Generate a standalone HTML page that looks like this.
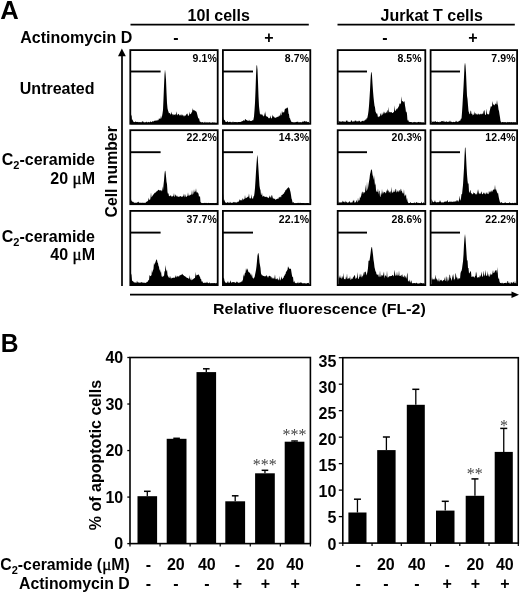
<!DOCTYPE html>
<html><head><meta charset="utf-8"><title>Figure</title>
<style>
html,body{margin:0;padding:0;background:#fff;}
body{width:520px;height:592px;overflow:hidden;font-family:"Liberation Sans",sans-serif;}
svg{display:block}
</style></head><body>
<svg width="520" height="592" viewBox="0 0 520 592">
<rect width="520" height="592" fill="#fff"/>
<path d="M131.0,124.2 L131.0,116.2 L131.5,114.4 L132.0,120.4 L132.5,119.1 L133.0,121.1 L133.5,121.7 L134.0,122.1 L134.5,122.1 L135.0,122.3 L135.5,121.3 L136.0,121.7 L136.5,122.1 L137.0,122.1 L137.5,122.0 L138.0,121.8 L138.5,122.2 L139.0,122.3 L139.5,122.1 L140.0,122.3 L140.5,121.9 L141.0,122.4 L141.5,122.3 L142.0,121.6 L142.5,121.6 L143.0,121.2 L143.5,122.0 L144.0,122.5 L144.5,122.3 L145.0,122.4 L145.5,122.3 L146.0,122.0 L146.5,121.4 L147.0,122.5 L147.5,122.5 L148.0,121.7 L148.5,122.0 L149.0,122.2 L149.5,122.2 L150.0,122.2 L150.5,121.1 L151.0,122.3 L151.5,122.0 L152.0,121.8 L152.5,121.3 L153.0,121.3 L153.5,121.4 L154.0,121.3 L154.5,120.7 L155.0,120.6 L155.5,120.9 L156.0,120.1 L156.5,120.8 L157.0,120.6 L157.5,120.5 L158.0,119.5 L158.5,120.5 L159.0,118.0 L159.5,119.2 L160.0,118.2 L160.5,119.0 L161.0,115.3 L161.5,118.8 L162.0,116.2 L162.5,113.4 L163.0,110.0 L163.5,98.7 L164.0,86.2 L164.5,74.9 L165.0,69.4 L165.5,73.6 L166.0,79.8 L166.5,92.2 L167.0,102.9 L167.5,108.3 L168.0,110.6 L168.5,111.7 L169.0,113.6 L169.5,113.1 L170.0,112.9 L170.5,114.8 L171.0,114.0 L171.5,111.5 L172.0,114.5 L172.5,113.8 L173.0,115.8 L173.5,114.0 L174.0,115.1 L174.5,114.4 L175.0,114.7 L175.5,113.8 L176.0,115.8 L176.5,111.2 L177.0,113.7 L177.5,115.6 L178.0,114.5 L178.5,113.7 L179.0,114.3 L179.5,115.4 L180.0,115.3 L180.5,115.6 L181.0,113.9 L181.5,115.9 L182.0,114.0 L182.5,115.5 L183.0,115.3 L183.5,115.4 L184.0,116.7 L184.5,115.7 L185.0,115.3 L185.5,115.8 L186.0,115.3 L186.5,114.0 L187.0,113.7 L187.5,113.5 L188.0,115.9 L188.5,115.4 L189.0,115.4 L189.5,111.6 L190.0,114.5 L190.5,113.8 L191.0,114.1 L191.5,112.3 L192.0,112.6 L192.5,108.0 L193.0,110.8 L193.5,109.5 L194.0,110.5 L194.5,110.3 L195.0,110.7 L195.5,110.9 L196.0,111.4 L196.5,111.7 L197.0,113.6 L197.5,115.5 L198.0,117.5 L198.5,118.7 L199.0,118.0 L199.5,120.6 L200.0,122.1 L200.5,121.6 L201.0,122.6 L201.5,122.2 L202.0,122.2 L202.5,122.1 L203.0,122.5 L203.5,122.7 L204.0,122.4 L204.5,122.6 L205.0,121.6 L205.5,122.7 L206.0,122.6 L206.5,122.6 L207.0,122.3 L207.5,122.6 L208.0,122.6 L208.5,122.5 L209.0,122.5 L209.5,122.2 L210.0,122.3 L210.5,122.7 L211.0,122.7 L211.5,122.7 L212.0,122.5 L212.5,122.3 L213.0,122.6 L213.5,122.8 L214.0,122.1 L214.5,122.7 L215.0,122.6 L215.5,122.7 L216.0,122.8 L216.5,122.7 L217.0,122.7 L217.0,124.2 Z" fill="#000"/>
<rect x="130.30" y="50.10" width="87.40" height="73.70" fill="none" stroke="#000" stroke-width="1.8"/>
<line x1="130.4" y1="71.5" x2="160.6" y2="71.5" stroke="#000" stroke-width="1.9"/>
<text x="216.9" y="61.5" font-size="10.5" text-anchor="end" font-family="Liberation Sans, sans-serif" font-weight="bold" letter-spacing="0.12">9.1%</text>
<path d="M223.0,124.2 L223.0,116.5 L223.5,119.2 L224.0,119.7 L224.5,120.1 L225.0,120.6 L225.5,121.7 L226.0,122.2 L226.5,121.8 L227.0,122.0 L227.5,120.8 L228.0,122.0 L228.5,122.3 L229.0,122.0 L229.5,122.0 L230.0,121.6 L230.5,122.1 L231.0,122.2 L231.5,122.2 L232.0,122.3 L232.5,122.2 L233.0,121.3 L233.5,122.3 L234.0,122.3 L234.5,121.9 L235.0,122.0 L235.5,122.1 L236.0,122.3 L236.5,122.0 L237.0,122.2 L237.5,122.3 L238.0,121.9 L238.5,121.9 L239.0,122.1 L239.5,121.9 L240.0,122.0 L240.5,122.1 L241.0,121.7 L241.5,121.6 L242.0,121.3 L242.5,121.0 L243.0,121.3 L243.5,119.9 L244.0,120.6 L244.5,121.0 L245.0,119.3 L245.5,119.1 L246.0,120.0 L246.5,120.3 L247.0,119.8 L247.5,120.8 L248.0,121.1 L248.5,121.1 L249.0,119.6 L249.5,120.8 L250.0,120.8 L250.5,121.0 L251.0,121.0 L251.5,120.9 L252.0,120.6 L252.5,120.1 L253.0,120.8 L253.5,119.2 L254.0,116.4 L254.5,110.3 L255.0,102.7 L255.5,90.6 L256.0,75.8 L256.5,65.8 L257.0,65.1 L257.5,70.0 L258.0,82.3 L258.5,96.2 L259.0,106.0 L259.5,110.6 L260.0,114.5 L260.5,114.6 L261.0,113.6 L261.5,115.2 L262.0,113.8 L262.5,115.2 L263.0,115.6 L263.5,116.1 L264.0,116.7 L264.5,112.2 L265.0,116.0 L265.5,111.1 L266.0,116.7 L266.5,115.7 L267.0,117.0 L267.5,116.4 L268.0,117.3 L268.5,118.5 L269.0,117.6 L269.5,118.6 L270.0,117.7 L270.5,115.3 L271.0,118.2 L271.5,118.4 L272.0,117.8 L272.5,114.6 L273.0,116.6 L273.5,116.6 L274.0,116.6 L274.5,118.1 L275.0,117.0 L275.5,118.1 L276.0,117.9 L276.5,117.1 L277.0,117.2 L277.5,116.6 L278.0,117.3 L278.5,116.5 L279.0,115.6 L279.5,115.6 L280.0,116.5 L280.5,112.3 L281.0,115.4 L281.5,114.8 L282.0,110.6 L282.5,113.0 L283.0,112.1 L283.5,112.2 L284.0,112.7 L284.5,110.7 L285.0,108.6 L285.5,108.9 L286.0,108.2 L286.5,108.4 L287.0,107.6 L287.5,107.4 L288.0,108.5 L288.5,113.5 L289.0,114.3 L289.5,118.1 L290.0,118.3 L290.5,120.0 L291.0,121.0 L291.5,122.0 L292.0,122.1 L292.5,122.2 L293.0,122.1 L293.5,122.6 L294.0,122.2 L294.5,122.3 L295.0,122.4 L295.5,121.9 L296.0,122.3 L296.5,121.8 L297.0,122.1 L297.5,121.8 L298.0,121.6 L298.5,122.5 L299.0,122.3 L299.5,122.3 L300.0,122.2 L300.5,122.0 L301.0,122.5 L301.5,122.3 L302.0,122.2 L302.5,121.4 L303.0,121.6 L303.5,121.7 L304.0,121.6 L304.5,120.8 L305.0,121.4 L305.5,121.5 L306.0,121.5 L306.5,121.3 L307.0,121.7 L307.5,122.0 L308.0,122.2 L308.5,122.1 L309.0,121.7 L309.0,124.2 Z" fill="#000"/>
<rect x="222.90" y="50.10" width="87.40" height="73.70" fill="none" stroke="#000" stroke-width="1.8"/>
<line x1="223.0" y1="71.5" x2="253.0" y2="71.5" stroke="#000" stroke-width="1.9"/>
<text x="309.2" y="61.5" font-size="10.5" text-anchor="end" font-family="Liberation Sans, sans-serif" font-weight="bold" letter-spacing="0.12">8.7%</text>
<path d="M338.5,124.2 L338.5,120.2 L339.0,121.1 L339.5,121.6 L340.0,121.4 L340.5,121.6 L341.0,121.8 L341.5,121.7 L342.0,121.3 L342.5,121.6 L343.0,121.0 L343.5,121.8 L344.0,121.6 L344.5,121.5 L345.0,121.9 L345.5,122.1 L346.0,120.6 L346.5,121.0 L347.0,119.9 L347.5,121.3 L348.0,122.1 L348.5,121.5 L349.0,121.9 L349.5,121.8 L350.0,121.9 L350.5,121.9 L351.0,120.6 L351.5,120.3 L352.0,121.1 L352.5,122.0 L353.0,121.2 L353.5,121.4 L354.0,121.6 L354.5,121.6 L355.0,120.3 L355.5,120.9 L356.0,120.3 L356.5,121.8 L357.0,121.1 L357.5,121.8 L358.0,120.8 L358.5,121.8 L359.0,120.3 L359.5,121.2 L360.0,120.9 L360.5,122.2 L361.0,121.4 L361.5,121.5 L362.0,121.0 L362.5,121.0 L363.0,120.5 L363.5,121.1 L364.0,121.5 L364.5,120.2 L365.0,120.3 L365.5,119.0 L366.0,120.6 L366.5,118.0 L367.0,118.7 L367.5,116.9 L368.0,114.6 L368.5,110.9 L369.0,105.7 L369.5,98.2 L370.0,90.3 L370.5,80.1 L371.0,73.0 L371.5,71.7 L372.0,75.5 L372.5,83.8 L373.0,90.9 L373.5,97.1 L374.0,101.8 L374.5,105.8 L375.0,107.2 L375.5,111.4 L376.0,112.6 L376.5,114.1 L377.0,112.9 L377.5,114.8 L378.0,117.4 L378.5,116.2 L379.0,117.2 L379.5,115.9 L380.0,116.2 L380.5,113.0 L381.0,114.5 L381.5,116.0 L382.0,112.3 L382.5,114.7 L383.0,114.6 L383.5,111.3 L384.0,114.3 L384.5,111.6 L385.0,113.2 L385.5,113.2 L386.0,112.2 L386.5,112.8 L387.0,111.0 L387.5,109.8 L388.0,113.7 L388.5,106.7 L389.0,112.3 L389.5,111.5 L390.0,112.7 L390.5,112.1 L391.0,112.2 L391.5,112.1 L392.0,112.8 L392.5,113.1 L393.0,112.9 L393.5,112.0 L394.0,112.1 L394.5,105.3 L395.0,111.1 L395.5,110.8 L396.0,110.1 L396.5,108.4 L397.0,109.7 L397.5,108.2 L398.0,108.0 L398.5,106.5 L399.0,106.4 L399.5,103.1 L400.0,104.5 L400.5,103.5 L401.0,103.2 L401.5,96.2 L402.0,101.3 L402.5,101.2 L403.0,101.1 L403.5,102.4 L404.0,101.5 L404.5,101.3 L405.0,105.4 L405.5,108.3 L406.0,112.4 L406.5,111.3 L407.0,114.1 L407.5,120.9 L408.0,119.6 L408.5,120.9 L409.0,122.1 L409.5,121.8 L410.0,121.9 L410.5,122.0 L411.0,122.0 L411.5,121.9 L412.0,122.5 L412.5,122.4 L413.0,122.3 L413.5,122.1 L414.0,122.5 L414.5,121.7 L415.0,122.3 L415.5,122.2 L416.0,121.9 L416.5,122.4 L417.0,122.5 L417.5,122.2 L418.0,122.0 L418.5,122.1 L419.0,121.8 L419.5,122.4 L420.0,121.8 L420.5,122.3 L421.0,122.2 L421.5,122.3 L422.0,122.4 L422.5,122.5 L423.0,122.1 L423.5,122.5 L424.0,122.5 L424.5,122.5 L424.5,124.2 Z" fill="#000"/>
<rect x="337.70" y="50.10" width="87.60" height="73.70" fill="none" stroke="#000" stroke-width="1.8"/>
<line x1="337.8" y1="71.5" x2="367.0" y2="71.5" stroke="#000" stroke-width="1.9"/>
<text x="421.8" y="61.5" font-size="10.5" text-anchor="end" font-family="Liberation Sans, sans-serif" font-weight="bold" letter-spacing="0.12">8.5%</text>
<path d="M431.5,124.2 L431.5,120.6 L432.0,121.4 L432.5,122.0 L433.0,121.6 L433.5,121.7 L434.0,121.6 L434.5,122.1 L435.0,121.1 L435.5,121.3 L436.0,121.8 L436.5,122.0 L437.0,122.1 L437.5,121.5 L438.0,121.9 L438.5,122.0 L439.0,122.2 L439.5,122.3 L440.0,121.3 L440.5,121.9 L441.0,122.1 L441.5,121.0 L442.0,121.0 L442.5,121.1 L443.0,121.8 L443.5,121.5 L444.0,120.5 L444.5,122.1 L445.0,121.8 L445.5,121.8 L446.0,121.9 L446.5,120.9 L447.0,122.1 L447.5,122.0 L448.0,121.4 L448.5,122.0 L449.0,121.5 L449.5,121.8 L450.0,120.3 L450.5,121.7 L451.0,121.8 L451.5,121.8 L452.0,122.1 L452.5,122.2 L453.0,121.9 L453.5,121.8 L454.0,121.9 L454.5,121.9 L455.0,122.2 L455.5,121.7 L456.0,120.6 L456.5,121.5 L457.0,121.7 L457.5,121.9 L458.0,121.6 L458.5,121.4 L459.0,121.3 L459.5,120.5 L460.0,121.0 L460.5,119.9 L461.0,118.6 L461.5,118.7 L462.0,112.4 L462.5,104.7 L463.0,95.8 L463.5,87.0 L464.0,77.0 L464.5,66.0 L465.0,62.4 L465.5,65.6 L466.0,72.7 L466.5,84.4 L467.0,95.7 L467.5,98.9 L468.0,105.2 L468.5,110.9 L469.0,112.6 L469.5,114.0 L470.0,114.2 L470.5,111.1 L471.0,110.4 L471.5,113.9 L472.0,113.8 L472.5,115.8 L473.0,113.1 L473.5,115.2 L474.0,114.6 L474.5,111.3 L475.0,114.9 L475.5,113.1 L476.0,113.5 L476.5,114.8 L477.0,113.6 L477.5,114.4 L478.0,115.1 L478.5,113.2 L479.0,114.3 L479.5,114.7 L480.0,113.8 L480.5,114.5 L481.0,113.2 L481.5,114.4 L482.0,113.9 L482.5,113.2 L483.0,114.4 L483.5,111.8 L484.0,110.4 L484.5,110.3 L485.0,114.5 L485.5,115.1 L486.0,114.6 L486.5,108.5 L487.0,113.4 L487.5,113.9 L488.0,114.6 L488.5,114.0 L489.0,114.7 L489.5,111.4 L490.0,109.7 L490.5,107.5 L491.0,105.7 L491.5,106.7 L492.0,106.4 L492.5,100.9 L493.0,103.8 L493.5,104.7 L494.0,104.7 L494.5,105.4 L495.0,104.3 L495.5,103.3 L496.0,104.4 L496.5,104.1 L497.0,99.9 L497.5,104.0 L498.0,105.5 L498.5,109.4 L499.0,111.1 L499.5,114.3 L500.0,117.3 L500.5,121.0 L501.0,122.1 L501.5,122.6 L502.0,122.2 L502.5,122.1 L503.0,122.0 L503.5,122.2 L504.0,122.2 L504.5,122.3 L505.0,122.0 L505.5,122.3 L506.0,122.3 L506.5,122.4 L507.0,122.4 L507.5,121.7 L508.0,122.5 L508.5,121.9 L509.0,122.2 L509.5,122.1 L510.0,122.3 L510.5,122.2 L511.0,122.3 L511.5,122.0 L512.0,122.2 L512.5,122.3 L513.0,122.4 L513.5,121.9 L514.0,122.3 L514.5,122.3 L515.0,122.2 L515.5,122.3 L516.0,122.3 L516.5,122.3 L516.5,124.2 Z" fill="#000"/>
<rect x="430.60" y="50.10" width="86.50" height="73.70" fill="none" stroke="#000" stroke-width="1.8"/>
<line x1="430.7" y1="71.5" x2="460.0" y2="71.5" stroke="#000" stroke-width="1.9"/>
<text x="515.6" y="61.5" font-size="10.5" text-anchor="end" font-family="Liberation Sans, sans-serif" font-weight="bold" letter-spacing="0.12">7.9%</text>
<path d="M131.0,205.0 L131.0,199.2 L131.5,200.9 L132.0,201.2 L132.5,201.9 L133.0,201.5 L133.5,202.3 L134.0,202.4 L134.5,202.8 L135.0,202.9 L135.5,202.8 L136.0,202.6 L136.5,202.9 L137.0,202.6 L137.5,202.3 L138.0,202.2 L138.5,201.5 L139.0,202.7 L139.5,202.7 L140.0,202.8 L140.5,202.8 L141.0,202.7 L141.5,203.1 L142.0,202.6 L142.5,202.9 L143.0,202.6 L143.5,203.0 L144.0,202.8 L144.5,202.8 L145.0,202.9 L145.5,202.7 L146.0,202.3 L146.5,201.5 L147.0,202.1 L147.5,200.8 L148.0,201.3 L148.5,197.6 L149.0,200.3 L149.5,199.2 L150.0,199.9 L150.5,198.1 L151.0,192.2 L151.5,197.6 L152.0,196.4 L152.5,196.0 L153.0,194.8 L153.5,194.4 L154.0,193.9 L154.5,193.0 L155.0,192.7 L155.5,192.8 L156.0,191.7 L156.5,191.7 L157.0,190.7 L157.5,191.2 L158.0,189.8 L158.5,189.9 L159.0,189.7 L159.5,190.6 L160.0,190.5 L160.5,190.2 L161.0,190.3 L161.5,190.6 L162.0,191.4 L162.5,186.3 L163.0,190.8 L163.5,185.1 L164.0,180.6 L164.5,174.1 L165.0,170.5 L165.5,171.5 L166.0,176.3 L166.5,181.8 L167.0,184.3 L167.5,192.1 L168.0,193.9 L168.5,192.9 L169.0,196.4 L169.5,195.7 L170.0,196.2 L170.5,195.2 L171.0,195.4 L171.5,196.3 L172.0,197.3 L172.5,196.1 L173.0,196.3 L173.5,195.4 L174.0,193.0 L174.5,196.9 L175.0,196.5 L175.5,194.3 L176.0,195.3 L176.5,196.7 L177.0,195.3 L177.5,196.7 L178.0,196.6 L178.5,197.0 L179.0,196.6 L179.5,196.8 L180.0,196.3 L180.5,196.1 L181.0,196.6 L181.5,196.8 L182.0,196.7 L182.5,196.5 L183.0,196.6 L183.5,195.5 L184.0,193.4 L184.5,196.0 L185.0,197.4 L185.5,194.1 L186.0,197.2 L186.5,196.8 L187.0,196.3 L187.5,195.8 L188.0,192.2 L188.5,195.8 L189.0,195.5 L189.5,195.8 L190.0,194.3 L190.5,195.2 L191.0,194.8 L191.5,194.3 L192.0,189.8 L192.5,194.4 L193.0,194.5 L193.5,192.6 L194.0,189.3 L194.5,192.6 L195.0,191.5 L195.5,191.6 L196.0,188.3 L196.5,192.1 L197.0,192.7 L197.5,191.9 L198.0,193.3 L198.5,193.5 L199.0,196.7 L199.5,196.6 L200.0,196.1 L200.5,202.0 L201.0,202.5 L201.5,203.0 L202.0,203.0 L202.5,203.3 L203.0,203.0 L203.5,203.2 L204.0,202.9 L204.5,202.8 L205.0,203.3 L205.5,203.0 L206.0,202.8 L206.5,203.0 L207.0,203.2 L207.5,203.2 L208.0,203.2 L208.5,202.7 L209.0,203.1 L209.5,203.2 L210.0,203.1 L210.5,202.9 L211.0,203.1 L211.5,203.0 L212.0,203.2 L212.5,203.1 L213.0,203.1 L213.5,202.9 L214.0,203.3 L214.5,203.2 L215.0,203.1 L215.5,203.0 L216.0,203.2 L216.5,203.2 L217.0,202.5 L217.0,205.0 Z" fill="#000"/>
<rect x="130.30" y="130.20" width="87.40" height="74.00" fill="none" stroke="#000" stroke-width="1.8"/>
<line x1="130.4" y1="152.2" x2="160.6" y2="152.2" stroke="#000" stroke-width="1.9"/>
<text x="216.9" y="141.4" font-size="10.5" text-anchor="end" font-family="Liberation Sans, sans-serif" font-weight="bold" letter-spacing="0.12">22.2%</text>
<path d="M223.0,205.0 L223.0,193.1 L223.5,199.4 L224.0,201.5 L224.5,199.3 L225.0,202.0 L225.5,202.6 L226.0,202.7 L226.5,203.1 L227.0,202.4 L227.5,201.9 L228.0,202.7 L228.5,202.6 L229.0,202.7 L229.5,203.1 L230.0,201.5 L230.5,202.8 L231.0,202.6 L231.5,202.9 L232.0,202.8 L232.5,202.8 L233.0,202.5 L233.5,201.8 L234.0,202.7 L234.5,202.2 L235.0,201.7 L235.5,202.8 L236.0,202.3 L236.5,202.5 L237.0,202.8 L237.5,201.5 L238.0,202.2 L238.5,201.5 L239.0,201.3 L239.5,198.9 L240.0,200.7 L240.5,199.7 L241.0,200.5 L241.5,199.6 L242.0,200.9 L242.5,198.5 L243.0,198.6 L243.5,199.9 L244.0,199.0 L244.5,199.1 L245.0,194.9 L245.5,198.6 L246.0,198.1 L246.5,198.0 L247.0,197.2 L247.5,197.3 L248.0,196.4 L248.5,196.8 L249.0,193.2 L249.5,198.0 L250.0,198.5 L250.5,198.4 L251.0,198.0 L251.5,194.2 L252.0,199.1 L252.5,197.9 L253.0,199.0 L253.5,196.2 L254.0,196.2 L254.5,193.0 L255.0,187.9 L255.5,180.2 L256.0,171.5 L256.5,164.1 L257.0,157.4 L257.5,154.8 L258.0,162.2 L258.5,169.8 L259.0,177.8 L259.5,185.8 L260.0,188.7 L260.5,190.3 L261.0,194.9 L261.5,194.8 L262.0,192.2 L262.5,197.1 L263.0,195.9 L263.5,195.8 L264.0,196.8 L264.5,196.5 L265.0,196.6 L265.5,197.0 L266.0,196.9 L266.5,196.5 L267.0,197.5 L267.5,197.3 L268.0,197.6 L268.5,198.2 L269.0,197.6 L269.5,195.3 L270.0,197.6 L270.5,197.5 L271.0,195.9 L271.5,194.8 L272.0,198.7 L272.5,194.9 L273.0,198.7 L273.5,198.2 L274.0,198.7 L274.5,198.9 L275.0,198.5 L275.5,200.0 L276.0,199.8 L276.5,199.0 L277.0,199.1 L277.5,199.0 L278.0,197.8 L278.5,199.2 L279.0,196.6 L279.5,197.8 L280.0,196.8 L280.5,196.4 L281.0,197.7 L281.5,195.0 L282.0,195.1 L282.5,195.0 L283.0,193.5 L283.5,194.1 L284.0,193.4 L284.5,192.1 L285.0,191.7 L285.5,189.8 L286.0,190.5 L286.5,189.2 L287.0,188.7 L287.5,188.2 L288.0,187.7 L288.5,187.0 L289.0,187.9 L289.5,188.2 L290.0,190.3 L290.5,192.1 L291.0,195.0 L291.5,198.5 L292.0,199.7 L292.5,202.4 L293.0,202.6 L293.5,202.1 L294.0,203.0 L294.5,203.3 L295.0,203.2 L295.5,203.2 L296.0,203.3 L296.5,203.2 L297.0,203.1 L297.5,203.2 L298.0,202.6 L298.5,203.0 L299.0,203.2 L299.5,203.2 L300.0,202.6 L300.5,203.1 L301.0,203.1 L301.5,203.0 L302.0,203.1 L302.5,203.0 L303.0,203.0 L303.5,203.0 L304.0,203.0 L304.5,203.3 L305.0,203.3 L305.5,203.2 L306.0,203.3 L306.5,203.1 L307.0,203.3 L307.5,203.1 L308.0,203.1 L308.5,203.4 L309.0,203.1 L309.0,205.0 Z" fill="#000"/>
<rect x="222.90" y="130.20" width="87.40" height="74.00" fill="none" stroke="#000" stroke-width="1.8"/>
<line x1="223.0" y1="152.2" x2="253.0" y2="152.2" stroke="#000" stroke-width="1.9"/>
<text x="309.2" y="141.4" font-size="10.5" text-anchor="end" font-family="Liberation Sans, sans-serif" font-weight="bold" letter-spacing="0.12">14.3%</text>
<path d="M338.5,205.0 L338.5,201.0 L339.0,202.5 L339.5,202.5 L340.0,202.3 L340.5,202.8 L341.0,202.1 L341.5,202.3 L342.0,203.0 L342.5,200.5 L343.0,202.1 L343.5,201.5 L344.0,201.8 L344.5,201.7 L345.0,203.0 L345.5,200.5 L346.0,202.4 L346.5,201.6 L347.0,202.6 L347.5,202.7 L348.0,202.4 L348.5,202.6 L349.0,201.8 L349.5,200.9 L350.0,202.6 L350.5,202.6 L351.0,202.4 L351.5,202.6 L352.0,202.2 L352.5,202.4 L353.0,200.2 L353.5,201.2 L354.0,199.6 L354.5,202.4 L355.0,202.7 L355.5,202.3 L356.0,201.8 L356.5,199.7 L357.0,201.8 L357.5,202.5 L358.0,197.6 L358.5,201.4 L359.0,199.7 L359.5,200.8 L360.0,195.9 L360.5,198.2 L361.0,196.5 L361.5,193.9 L362.0,192.1 L362.5,191.4 L363.0,194.3 L363.5,192.6 L364.0,191.7 L364.5,192.4 L365.0,192.8 L365.5,184.5 L366.0,190.3 L366.5,190.9 L367.0,181.6 L367.5,190.3 L368.0,188.0 L368.5,184.4 L369.0,181.6 L369.5,178.8 L370.0,174.3 L370.5,172.4 L371.0,169.9 L371.5,169.2 L372.0,170.5 L372.5,174.5 L373.0,176.6 L373.5,180.1 L374.0,174.9 L374.5,180.4 L375.0,185.5 L375.5,183.0 L376.0,190.1 L376.5,191.6 L377.0,191.9 L377.5,191.7 L378.0,188.3 L378.5,194.4 L379.0,191.1 L379.5,190.6 L380.0,196.8 L380.5,196.7 L381.0,192.5 L381.5,195.3 L382.0,188.7 L382.5,194.4 L383.0,191.1 L383.5,193.8 L384.0,191.7 L384.5,192.3 L385.0,192.1 L385.5,192.9 L386.0,193.6 L386.5,190.1 L387.0,191.7 L387.5,188.5 L388.0,191.3 L388.5,190.1 L389.0,193.3 L389.5,191.8 L390.0,191.8 L390.5,191.2 L391.0,193.9 L391.5,186.7 L392.0,192.1 L392.5,193.3 L393.0,191.6 L393.5,192.6 L394.0,189.8 L394.5,192.1 L395.0,191.7 L395.5,189.3 L396.0,188.8 L396.5,192.5 L397.0,192.1 L397.5,191.2 L398.0,189.9 L398.5,192.4 L399.0,190.8 L399.5,189.7 L400.0,192.3 L400.5,189.8 L401.0,188.5 L401.5,190.9 L402.0,191.3 L402.5,193.1 L403.0,193.6 L403.5,193.4 L404.0,188.9 L404.5,196.8 L405.0,194.7 L405.5,196.1 L406.0,193.8 L406.5,200.6 L407.0,197.4 L407.5,201.2 L408.0,202.2 L408.5,203.3 L409.0,203.3 L409.5,203.1 L410.0,203.0 L410.5,201.8 L411.0,202.9 L411.5,203.1 L412.0,202.9 L412.5,202.9 L413.0,203.2 L413.5,202.9 L414.0,202.8 L414.5,202.2 L415.0,203.2 L415.5,203.4 L416.0,202.2 L416.5,202.4 L417.0,201.8 L417.5,203.2 L418.0,203.1 L418.5,202.7 L419.0,203.0 L419.5,203.1 L420.0,203.2 L420.5,203.2 L421.0,203.2 L421.5,201.6 L422.0,202.8 L422.5,203.4 L423.0,203.4 L423.5,201.9 L424.0,203.0 L424.5,203.2 L424.5,205.0 Z" fill="#000"/>
<rect x="337.70" y="130.20" width="87.60" height="74.00" fill="none" stroke="#000" stroke-width="1.8"/>
<line x1="337.8" y1="152.2" x2="367.0" y2="152.2" stroke="#000" stroke-width="1.9"/>
<text x="421.8" y="141.4" font-size="10.5" text-anchor="end" font-family="Liberation Sans, sans-serif" font-weight="bold" letter-spacing="0.12">20.3%</text>
<path d="M431.5,205.0 L431.5,199.1 L432.0,200.0 L432.5,201.3 L433.0,201.9 L433.5,202.2 L434.0,202.1 L434.5,201.5 L435.0,199.9 L435.5,202.2 L436.0,201.7 L436.5,202.5 L437.0,202.4 L437.5,202.1 L438.0,202.3 L438.5,202.3 L439.0,202.1 L439.5,201.8 L440.0,200.0 L440.5,201.6 L441.0,202.1 L441.5,202.5 L442.0,202.4 L442.5,202.2 L443.0,202.4 L443.5,202.5 L444.0,202.1 L444.5,201.5 L445.0,201.9 L445.5,201.7 L446.0,200.7 L446.5,202.0 L447.0,201.1 L447.5,199.7 L448.0,202.0 L448.5,201.9 L449.0,202.2 L449.5,201.6 L450.0,201.5 L450.5,201.7 L451.0,201.8 L451.5,201.6 L452.0,202.0 L452.5,201.8 L453.0,201.8 L453.5,201.5 L454.0,201.8 L454.5,201.7 L455.0,201.0 L455.5,201.2 L456.0,201.9 L456.5,199.7 L457.0,201.8 L457.5,199.8 L458.0,201.2 L458.5,201.7 L459.0,199.4 L459.5,195.6 L460.0,200.8 L460.5,199.9 L461.0,198.2 L461.5,193.8 L462.0,194.5 L462.5,189.4 L463.0,185.0 L463.5,176.6 L464.0,168.2 L464.5,156.6 L465.0,147.4 L465.5,147.8 L466.0,155.5 L466.5,166.1 L467.0,174.6 L467.5,180.5 L468.0,184.2 L468.5,182.8 L469.0,191.4 L469.5,192.9 L470.0,190.9 L470.5,189.7 L471.0,193.6 L471.5,192.8 L472.0,194.5 L472.5,193.7 L473.0,194.6 L473.5,191.9 L474.0,193.3 L474.5,193.0 L475.0,193.4 L475.5,193.9 L476.0,194.7 L476.5,193.2 L477.0,195.1 L477.5,189.3 L478.0,193.5 L478.5,188.9 L479.0,194.5 L479.5,192.9 L480.0,194.0 L480.5,193.8 L481.0,192.6 L481.5,191.2 L482.0,194.1 L482.5,194.3 L483.0,193.9 L483.5,192.3 L484.0,193.5 L484.5,193.8 L485.0,192.3 L485.5,194.5 L486.0,194.0 L486.5,192.9 L487.0,192.0 L487.5,194.0 L488.0,193.7 L488.5,194.2 L489.0,190.5 L489.5,193.1 L490.0,191.3 L490.5,192.5 L491.0,190.2 L491.5,190.9 L492.0,192.5 L492.5,190.8 L493.0,190.3 L493.5,189.5 L494.0,189.4 L494.5,189.5 L495.0,184.8 L495.5,189.9 L496.0,189.0 L496.5,190.8 L497.0,191.9 L497.5,193.8 L498.0,192.6 L498.5,195.7 L499.0,198.4 L499.5,200.4 L500.0,202.2 L500.5,202.8 L501.0,202.8 L501.5,202.0 L502.0,202.4 L502.5,203.2 L503.0,202.9 L503.5,203.3 L504.0,203.2 L504.5,202.8 L505.0,202.4 L505.5,202.3 L506.0,203.2 L506.5,202.9 L507.0,203.2 L507.5,203.1 L508.0,203.1 L508.5,203.1 L509.0,203.2 L509.5,202.0 L510.0,202.7 L510.5,202.9 L511.0,203.3 L511.5,203.2 L512.0,203.3 L512.5,202.8 L513.0,203.1 L513.5,203.4 L514.0,202.9 L514.5,203.2 L515.0,202.2 L515.5,203.2 L516.0,203.1 L516.5,203.3 L516.5,205.0 Z" fill="#000"/>
<rect x="430.60" y="130.20" width="86.50" height="74.00" fill="none" stroke="#000" stroke-width="1.8"/>
<line x1="430.7" y1="152.2" x2="460.0" y2="152.2" stroke="#000" stroke-width="1.9"/>
<text x="515.6" y="141.4" font-size="10.5" text-anchor="end" font-family="Liberation Sans, sans-serif" font-weight="bold" letter-spacing="0.12">12.4%</text>
<path d="M131.0,285.7 L131.0,273.5 L131.5,274.9 L132.0,280.5 L132.5,280.9 L133.0,281.2 L133.5,281.8 L134.0,282.6 L134.5,282.6 L135.0,282.2 L135.5,282.7 L136.0,282.5 L136.5,282.9 L137.0,280.6 L137.5,282.3 L138.0,282.6 L138.5,282.8 L139.0,281.8 L139.5,283.0 L140.0,282.7 L140.5,282.4 L141.0,282.5 L141.5,282.1 L142.0,282.5 L142.5,282.8 L143.0,282.2 L143.5,283.1 L144.0,282.6 L144.5,282.9 L145.0,282.6 L145.5,282.9 L146.0,283.1 L146.5,282.3 L147.0,281.7 L147.5,282.0 L148.0,280.9 L148.5,279.8 L149.0,280.4 L149.5,275.1 L150.0,275.7 L150.5,276.3 L151.0,275.8 L151.5,275.0 L152.0,269.5 L152.5,273.1 L153.0,270.4 L153.5,268.8 L154.0,262.4 L154.5,265.1 L155.0,263.3 L155.5,262.1 L156.0,260.5 L156.5,259.3 L157.0,259.9 L157.5,262.6 L158.0,263.2 L158.5,266.0 L159.0,266.8 L159.5,270.7 L160.0,269.1 L160.5,273.0 L161.0,271.0 L161.5,275.6 L162.0,277.1 L162.5,277.0 L163.0,275.3 L163.5,276.4 L164.0,275.9 L164.5,271.4 L165.0,270.9 L165.5,265.1 L166.0,269.2 L166.5,271.8 L167.0,269.2 L167.5,275.0 L168.0,276.1 L168.5,277.0 L169.0,277.8 L169.5,277.9 L170.0,275.8 L170.5,277.4 L171.0,278.8 L171.5,278.3 L172.0,277.4 L172.5,277.9 L173.0,278.1 L173.5,277.5 L174.0,277.8 L174.5,277.8 L175.0,277.5 L175.5,275.1 L176.0,277.6 L176.5,276.9 L177.0,275.6 L177.5,276.8 L178.0,276.1 L178.5,276.5 L179.0,276.7 L179.5,275.4 L180.0,275.3 L180.5,275.3 L181.0,274.7 L181.5,274.9 L182.0,273.7 L182.5,274.1 L183.0,275.2 L183.5,275.1 L184.0,275.7 L184.5,276.3 L185.0,276.0 L185.5,276.7 L186.0,277.3 L186.5,277.4 L187.0,277.8 L187.5,278.1 L188.0,278.1 L188.5,278.6 L189.0,279.2 L189.5,275.0 L190.0,279.0 L190.5,279.9 L191.0,277.2 L191.5,280.4 L192.0,279.8 L192.5,279.8 L193.0,278.7 L193.5,279.2 L194.0,277.9 L194.5,278.3 L195.0,278.0 L195.5,271.8 L196.0,276.7 L196.5,274.8 L197.0,274.9 L197.5,274.7 L198.0,275.3 L198.5,274.2 L199.0,274.7 L199.5,276.6 L200.0,276.4 L200.5,279.2 L201.0,278.5 L201.5,281.0 L202.0,282.0 L202.5,280.9 L203.0,283.0 L203.5,283.0 L204.0,282.6 L204.5,282.9 L205.0,282.6 L205.5,282.9 L206.0,282.5 L206.5,283.1 L207.0,281.5 L207.5,282.8 L208.0,283.1 L208.5,282.9 L209.0,283.4 L209.5,282.3 L210.0,282.8 L210.5,283.4 L211.0,283.1 L211.5,283.1 L212.0,283.4 L212.5,283.1 L213.0,283.1 L213.5,283.3 L214.0,282.9 L214.5,283.1 L215.0,283.3 L215.5,283.3 L216.0,283.3 L216.5,282.7 L217.0,283.6 L217.0,285.7 Z" fill="#000"/>
<rect x="130.30" y="210.90" width="87.40" height="74.20" fill="none" stroke="#000" stroke-width="1.8"/>
<line x1="130.4" y1="232.6" x2="160.6" y2="232.6" stroke="#000" stroke-width="1.9"/>
<text x="216.9" y="222.5" font-size="10.5" text-anchor="end" font-family="Liberation Sans, sans-serif" font-weight="bold" letter-spacing="0.12">37.7%</text>
<path d="M223.0,285.7 L223.0,277.0 L223.5,278.5 L224.0,277.9 L224.5,280.9 L225.0,281.7 L225.5,282.8 L226.0,282.8 L226.5,282.8 L227.0,282.9 L227.5,282.1 L228.0,281.1 L228.5,282.5 L229.0,283.2 L229.5,282.7 L230.0,281.8 L230.5,280.2 L231.0,282.5 L231.5,282.7 L232.0,282.2 L232.5,282.2 L233.0,282.0 L233.5,282.3 L234.0,282.1 L234.5,282.3 L235.0,282.7 L235.5,282.8 L236.0,282.8 L236.5,281.2 L237.0,282.5 L237.5,281.6 L238.0,283.1 L238.5,282.8 L239.0,282.4 L239.5,282.6 L240.0,282.8 L240.5,281.8 L241.0,282.4 L241.5,281.0 L242.0,282.0 L242.5,280.4 L243.0,279.4 L243.5,274.1 L244.0,276.7 L244.5,275.0 L245.0,272.4 L245.5,272.9 L246.0,268.0 L246.5,271.0 L247.0,268.3 L247.5,269.3 L248.0,270.4 L248.5,272.3 L249.0,272.1 L249.5,272.8 L250.0,273.0 L250.5,275.2 L251.0,273.0 L251.5,276.7 L252.0,274.1 L252.5,277.7 L253.0,277.7 L253.5,278.9 L254.0,277.5 L254.5,277.6 L255.0,275.0 L255.5,272.4 L256.0,269.9 L256.5,266.2 L257.0,261.1 L257.5,255.6 L258.0,253.5 L258.5,253.1 L259.0,256.5 L259.5,262.4 L260.0,265.3 L260.5,268.1 L261.0,273.6 L261.5,274.6 L262.0,275.6 L262.5,275.3 L263.0,275.7 L263.5,276.1 L264.0,275.9 L264.5,276.3 L265.0,276.5 L265.5,276.2 L266.0,275.8 L266.5,274.9 L267.0,276.6 L267.5,276.3 L268.0,277.9 L268.5,276.5 L269.0,275.7 L269.5,275.8 L270.0,276.3 L270.5,275.9 L271.0,277.7 L271.5,276.6 L272.0,278.9 L272.5,277.2 L273.0,279.0 L273.5,277.6 L274.0,279.3 L274.5,277.5 L275.0,274.2 L275.5,278.8 L276.0,279.6 L276.5,278.9 L277.0,278.4 L277.5,278.3 L278.0,280.0 L278.5,279.3 L279.0,280.7 L279.5,275.8 L280.0,280.5 L280.5,280.1 L281.0,278.4 L281.5,276.2 L282.0,278.9 L282.5,279.3 L283.0,277.8 L283.5,277.9 L284.0,276.1 L284.5,275.8 L285.0,274.2 L285.5,274.2 L286.0,271.8 L286.5,271.4 L287.0,270.6 L287.5,269.7 L288.0,266.2 L288.5,267.2 L289.0,268.2 L289.5,269.1 L290.0,268.6 L290.5,268.7 L291.0,269.3 L291.5,272.6 L292.0,275.5 L292.5,277.3 L293.0,276.7 L293.5,281.4 L294.0,282.5 L294.5,280.6 L295.0,283.3 L295.5,282.8 L296.0,283.2 L296.5,283.3 L297.0,282.8 L297.5,283.3 L298.0,281.6 L298.5,283.2 L299.0,283.3 L299.5,282.7 L300.0,282.4 L300.5,282.6 L301.0,282.5 L301.5,282.4 L302.0,283.3 L302.5,283.2 L303.0,283.3 L303.5,283.3 L304.0,283.2 L304.5,283.0 L305.0,283.4 L305.5,283.2 L306.0,283.4 L306.5,283.5 L307.0,283.3 L307.5,282.9 L308.0,282.9 L308.5,283.2 L309.0,282.5 L309.0,285.7 Z" fill="#000"/>
<rect x="222.90" y="210.90" width="87.40" height="74.20" fill="none" stroke="#000" stroke-width="1.8"/>
<line x1="223.0" y1="232.6" x2="253.0" y2="232.6" stroke="#000" stroke-width="1.9"/>
<text x="309.2" y="222.5" font-size="10.5" text-anchor="end" font-family="Liberation Sans, sans-serif" font-weight="bold" letter-spacing="0.12">22.1%</text>
<path d="M338.5,285.7 L338.5,280.0 L339.0,276.1 L339.5,278.5 L340.0,274.8 L340.5,278.0 L341.0,277.5 L341.5,279.2 L342.0,275.8 L342.5,276.9 L343.0,278.5 L343.5,272.7 L344.0,278.9 L344.5,279.3 L345.0,278.8 L345.5,279.4 L346.0,276.3 L346.5,278.8 L347.0,273.2 L347.5,279.0 L348.0,278.7 L348.5,278.4 L349.0,278.0 L349.5,278.7 L350.0,275.7 L350.5,279.5 L351.0,279.9 L351.5,278.2 L352.0,279.1 L352.5,278.7 L353.0,277.2 L353.5,277.2 L354.0,275.8 L354.5,275.3 L355.0,275.5 L355.5,279.3 L356.0,277.9 L356.5,278.5 L357.0,276.8 L357.5,272.1 L358.0,278.9 L358.5,279.0 L359.0,277.5 L359.5,276.7 L360.0,273.2 L360.5,277.6 L361.0,273.6 L361.5,276.8 L362.0,277.7 L362.5,275.6 L363.0,276.1 L363.5,272.1 L364.0,275.6 L364.5,271.7 L365.0,272.2 L365.5,271.3 L366.0,272.8 L366.5,275.4 L367.0,273.8 L367.5,271.3 L368.0,268.0 L368.5,261.1 L369.0,260.6 L369.5,260.8 L370.0,257.3 L370.5,253.8 L371.0,249.6 L371.5,247.2 L372.0,247.1 L372.5,251.0 L373.0,254.7 L373.5,259.7 L374.0,262.8 L374.5,267.3 L375.0,269.2 L375.5,271.5 L376.0,271.8 L376.5,274.2 L377.0,274.6 L377.5,275.2 L378.0,273.7 L378.5,275.5 L379.0,277.4 L379.5,276.0 L380.0,270.5 L380.5,276.3 L381.0,277.1 L381.5,275.3 L382.0,274.7 L382.5,275.5 L383.0,276.0 L383.5,273.4 L384.0,271.6 L384.5,278.4 L385.0,275.7 L385.5,275.2 L386.0,276.1 L386.5,276.9 L387.0,270.5 L387.5,276.9 L388.0,278.1 L388.5,276.5 L389.0,277.0 L389.5,276.1 L390.0,276.0 L390.5,276.2 L391.0,275.9 L391.5,276.1 L392.0,275.7 L392.5,274.7 L393.0,275.2 L393.5,276.5 L394.0,275.3 L394.5,269.8 L395.0,273.0 L395.5,276.3 L396.0,275.0 L396.5,275.7 L397.0,271.2 L397.5,276.3 L398.0,274.4 L398.5,276.1 L399.0,270.3 L399.5,275.9 L400.0,276.0 L400.5,275.9 L401.0,275.0 L401.5,274.8 L402.0,277.5 L402.5,273.7 L403.0,277.2 L403.5,277.0 L404.0,275.9 L404.5,275.1 L405.0,278.6 L405.5,276.0 L406.0,277.0 L406.5,279.1 L407.0,274.6 L407.5,272.5 L408.0,281.4 L408.5,280.5 L409.0,282.0 L409.5,279.2 L410.0,282.5 L410.5,282.6 L411.0,280.3 L411.5,280.9 L412.0,283.4 L412.5,283.3 L413.0,283.1 L413.5,283.3 L414.0,283.1 L414.5,283.1 L415.0,283.3 L415.5,283.2 L416.0,283.3 L416.5,282.4 L417.0,283.2 L417.5,283.4 L418.0,283.4 L418.5,283.5 L419.0,283.4 L419.5,282.9 L420.0,283.7 L420.5,282.6 L421.0,283.1 L421.5,283.0 L422.0,283.3 L422.5,283.3 L423.0,283.4 L423.5,283.3 L424.0,283.0 L424.5,283.5 L424.5,285.7 Z" fill="#000"/>
<rect x="337.70" y="210.90" width="87.60" height="74.20" fill="none" stroke="#000" stroke-width="1.8"/>
<line x1="337.8" y1="232.6" x2="367.0" y2="232.6" stroke="#000" stroke-width="1.9"/>
<text x="421.8" y="222.5" font-size="10.5" text-anchor="end" font-family="Liberation Sans, sans-serif" font-weight="bold" letter-spacing="0.12">28.6%</text>
<path d="M431.5,285.7 L431.5,280.6 L432.0,276.9 L432.5,279.4 L433.0,279.6 L433.5,279.4 L434.0,278.5 L434.5,280.0 L435.0,277.8 L435.5,274.4 L436.0,280.3 L436.5,278.1 L437.0,279.2 L437.5,280.1 L438.0,281.8 L438.5,280.6 L439.0,277.8 L439.5,282.0 L440.0,280.2 L440.5,280.4 L441.0,279.5 L441.5,280.3 L442.0,280.7 L442.5,281.4 L443.0,280.3 L443.5,280.0 L444.0,280.4 L444.5,276.9 L445.0,280.8 L445.5,281.0 L446.0,276.0 L446.5,277.4 L447.0,282.1 L447.5,280.0 L448.0,276.5 L448.5,280.6 L449.0,280.4 L449.5,274.4 L450.0,274.9 L450.5,278.0 L451.0,278.6 L451.5,281.1 L452.0,279.1 L452.5,274.6 L453.0,278.0 L453.5,273.5 L454.0,280.7 L454.5,278.5 L455.0,279.6 L455.5,272.8 L456.0,274.5 L456.5,278.1 L457.0,276.9 L457.5,278.5 L458.0,279.9 L458.5,278.1 L459.0,278.7 L459.5,277.8 L460.0,279.0 L460.5,273.3 L461.0,271.6 L461.5,270.9 L462.0,268.8 L462.5,265.0 L463.0,261.5 L463.5,254.8 L464.0,244.5 L464.5,237.8 L465.0,233.9 L465.5,238.2 L466.0,245.7 L466.5,253.5 L467.0,260.9 L467.5,259.7 L468.0,268.1 L468.5,268.1 L469.0,273.3 L469.5,273.2 L470.0,272.1 L470.5,270.9 L471.0,272.0 L471.5,276.9 L472.0,276.8 L472.5,276.4 L473.0,276.6 L473.5,276.8 L474.0,276.6 L474.5,278.1 L475.0,276.2 L475.5,275.8 L476.0,271.5 L476.5,273.2 L477.0,276.9 L477.5,278.0 L478.0,277.1 L478.5,277.1 L479.0,277.9 L479.5,276.7 L480.0,274.9 L480.5,276.9 L481.0,275.1 L481.5,271.5 L482.0,275.5 L482.5,276.8 L483.0,276.7 L483.5,270.4 L484.0,274.6 L484.5,276.5 L485.0,274.1 L485.5,269.8 L486.0,275.9 L486.5,275.6 L487.0,275.8 L487.5,271.1 L488.0,276.7 L488.5,275.5 L489.0,273.6 L489.5,277.2 L490.0,275.8 L490.5,273.0 L491.0,275.6 L491.5,273.7 L492.0,275.0 L492.5,272.7 L493.0,270.0 L493.5,273.0 L494.0,273.1 L494.5,272.2 L495.0,271.0 L495.5,270.3 L496.0,270.4 L496.5,270.1 L497.0,273.5 L497.5,267.0 L498.0,276.8 L498.5,278.9 L499.0,278.3 L499.5,281.4 L500.0,282.7 L500.5,282.9 L501.0,282.9 L501.5,282.7 L502.0,283.8 L502.5,282.5 L503.0,283.2 L503.5,283.4 L504.0,283.0 L504.5,283.0 L505.0,283.0 L505.5,283.1 L506.0,282.6 L506.5,282.9 L507.0,283.5 L507.5,281.1 L508.0,281.1 L508.5,283.1 L509.0,283.1 L509.5,283.7 L510.0,281.4 L510.5,283.9 L511.0,283.2 L511.5,282.3 L512.0,282.0 L512.5,283.5 L513.0,282.5 L513.5,281.5 L514.0,282.9 L514.5,283.2 L515.0,280.8 L515.5,283.2 L516.0,282.9 L516.5,282.9 L516.5,285.7 Z" fill="#000"/>
<rect x="430.60" y="210.90" width="86.50" height="74.20" fill="none" stroke="#000" stroke-width="1.8"/>
<line x1="430.7" y1="232.6" x2="460.0" y2="232.6" stroke="#000" stroke-width="1.9"/>
<text x="515.6" y="222.5" font-size="10.5" text-anchor="end" font-family="Liberation Sans, sans-serif" font-weight="bold" letter-spacing="0.12">22.2%</text>
<line x1="130.5" y1="24.6" x2="308.8" y2="24.6" stroke="#000" stroke-width="1.8"/>
<line x1="337.5" y1="24.6" x2="514.8" y2="24.6" stroke="#000" stroke-width="1.8"/>
<text x="0.3" y="18.5" font-size="25.6" text-anchor="start" font-family="Liberation Sans, sans-serif" font-weight="bold">A</text>
<text x="187.6" y="20.6" font-size="16" text-anchor="start" font-family="Liberation Sans, sans-serif" font-weight="bold">10I cells</text>
<text x="380.6" y="20.6" font-size="16" text-anchor="start" font-family="Liberation Sans, sans-serif" font-weight="bold">Jurkat T cells</text>
<text x="20.3" y="43.4" font-size="16" text-anchor="start" font-family="Liberation Sans, sans-serif" font-weight="bold">Actinomycin D</text>
<text x="176" y="43.3" font-size="16" text-anchor="middle" font-family="Liberation Sans, sans-serif" font-weight="bold">-</text>
<text x="268.8" y="43.3" font-size="16" text-anchor="middle" font-family="Liberation Sans, sans-serif" font-weight="bold">+</text>
<text x="385" y="43.3" font-size="16" text-anchor="middle" font-family="Liberation Sans, sans-serif" font-weight="bold">-</text>
<text x="473" y="43.3" font-size="16" text-anchor="middle" font-family="Liberation Sans, sans-serif" font-weight="bold">+</text>
<text x="94.5" y="94.3" font-size="16" text-anchor="end" font-family="Liberation Sans, sans-serif" font-weight="bold">Untreated</text>
<text x="95.0" y="164.7" font-size="16" text-anchor="end" font-family="Liberation Sans, sans-serif" font-weight="bold">C<tspan font-size="11" dy="3.9">2</tspan><tspan dy="-3.9">-ceramide</tspan></text>
<text x="95.0" y="183.6" font-size="16" text-anchor="end" font-family="Liberation Sans, sans-serif" font-weight="bold">20 <tspan font-family="Liberation Serif, serif" font-weight="normal" font-size="17" stroke="#000" stroke-width="0.35">μ</tspan>M</text>
<text x="95.0" y="241.7" font-size="16" text-anchor="end" font-family="Liberation Sans, sans-serif" font-weight="bold">C<tspan font-size="11" dy="3.9">2</tspan><tspan dy="-3.9">-ceramide</tspan></text>
<text x="95.0" y="260.1" font-size="16" text-anchor="end" font-family="Liberation Sans, sans-serif" font-weight="bold">40 <tspan font-family="Liberation Serif, serif" font-weight="normal" font-size="17" stroke="#000" stroke-width="0.35">μ</tspan>M</text>
<line x1="122.0" y1="286" x2="122.0" y2="54" stroke="#000" stroke-width="1.7"/>
<path d="M121.9,48.6 L118.0,56.3 L125.8,56.3 Z" fill="#000"/>
<text transform="translate(117.3,217.5) rotate(-90)" font-size="15.8" font-family="Liberation Sans, sans-serif" font-weight="bold">Cell number</text>
<line x1="130" y1="294.7" x2="513" y2="294.7" stroke="#000" stroke-width="1.7"/>
<path d="M519,294.7 L511.5,291.4 L511.5,298.0 Z" fill="#000"/>
<text transform="translate(213.0,313.6) scale(1.05,1)" font-size="15.2" text-anchor="start" font-family="Liberation Sans, sans-serif" font-weight="bold">Relative fluorescence (FL-2)</text>
<text transform="translate(0.8,351.6) scale(0.965,1)" font-size="25.5" text-anchor="start" font-family="Liberation Sans, sans-serif" font-weight="bold">B</text>
<rect x="130.0" y="357.5" width="180.39999999999998" height="186.10000000000002" fill="none" stroke="#000" stroke-width="1.6"/>
<line x1="127.3" y1="543.60" x2="130.0" y2="543.60" stroke="#000" stroke-width="1.3"/>
<text x="123.2" y="549.4" font-size="16" text-anchor="end" font-family="Liberation Sans, sans-serif" font-weight="bold">0</text>
<line x1="127.3" y1="497.08" x2="130.0" y2="497.08" stroke="#000" stroke-width="1.3"/>
<text x="123.2" y="502.87500000000006" font-size="16" text-anchor="end" font-family="Liberation Sans, sans-serif" font-weight="bold">10</text>
<line x1="127.3" y1="450.55" x2="130.0" y2="450.55" stroke="#000" stroke-width="1.3"/>
<text x="123.2" y="456.35" font-size="16" text-anchor="end" font-family="Liberation Sans, sans-serif" font-weight="bold">20</text>
<line x1="127.3" y1="404.02" x2="130.0" y2="404.02" stroke="#000" stroke-width="1.3"/>
<text x="123.2" y="409.825" font-size="16" text-anchor="end" font-family="Liberation Sans, sans-serif" font-weight="bold">30</text>
<line x1="127.3" y1="357.50" x2="130.0" y2="357.50" stroke="#000" stroke-width="1.3"/>
<text x="123.2" y="363.3" font-size="16" text-anchor="end" font-family="Liberation Sans, sans-serif" font-weight="bold">40</text>
<line x1="130.00" y1="543.6" x2="130.00" y2="546.6" stroke="#000" stroke-width="1.2"/>
<line x1="160.07" y1="543.6" x2="160.07" y2="546.6" stroke="#000" stroke-width="1.2"/>
<line x1="190.13" y1="543.6" x2="190.13" y2="546.6" stroke="#000" stroke-width="1.2"/>
<line x1="220.20" y1="543.6" x2="220.20" y2="546.6" stroke="#000" stroke-width="1.2"/>
<line x1="250.27" y1="543.6" x2="250.27" y2="546.6" stroke="#000" stroke-width="1.2"/>
<line x1="280.33" y1="543.6" x2="280.33" y2="546.6" stroke="#000" stroke-width="1.2"/>
<line x1="310.40" y1="543.6" x2="310.40" y2="546.6" stroke="#000" stroke-width="1.2"/>
<rect x="137.5" y="496.2" width="19.60" height="47.40" fill="#000"/>
<line x1="147.30" y1="496.2" x2="147.30" y2="491.3" stroke="#000" stroke-width="1.3"/>
<line x1="144.00" y1="491.3" x2="150.60" y2="491.3" stroke="#000" stroke-width="1.5"/>
<rect x="166.7" y="438.8" width="19.80" height="104.80" fill="#000"/>
<line x1="176.60" y1="438.8" x2="176.60" y2="438.3" stroke="#000" stroke-width="1.3"/>
<line x1="173.30" y1="438.3" x2="179.90" y2="438.3" stroke="#000" stroke-width="1.5"/>
<rect x="196.5" y="372.1" width="19.60" height="171.50" fill="#000"/>
<line x1="206.30" y1="372.1" x2="206.30" y2="368.8" stroke="#000" stroke-width="1.3"/>
<line x1="203.00" y1="368.8" x2="209.60" y2="368.8" stroke="#000" stroke-width="1.5"/>
<rect x="225.3" y="501.3" width="19.80" height="42.30" fill="#000"/>
<line x1="235.20" y1="501.3" x2="235.20" y2="495.8" stroke="#000" stroke-width="1.3"/>
<line x1="231.90" y1="495.8" x2="238.50" y2="495.8" stroke="#000" stroke-width="1.5"/>
<rect x="255.1" y="473.3" width="19.70" height="70.30" fill="#000"/>
<line x1="264.95" y1="473.3" x2="264.95" y2="470.3" stroke="#000" stroke-width="1.3"/>
<line x1="261.65" y1="470.3" x2="268.25" y2="470.3" stroke="#000" stroke-width="1.5"/>
<rect x="284.7" y="441.7" width="19.70" height="101.90" fill="#000"/>
<line x1="294.55" y1="441.7" x2="294.55" y2="441.0" stroke="#000" stroke-width="1.3"/>
<line x1="291.25" y1="441.0" x2="297.85" y2="441.0" stroke="#000" stroke-width="1.5"/>
<text transform="translate(101.0,530.2) rotate(-90)" font-size="16" font-family="Liberation Sans, sans-serif" font-weight="bold">% of apoptotic cells</text>
<text x="264.7" y="469.9" font-size="16" text-anchor="middle" font-family="Liberation Serif, serif" fill="#444">***</text>
<text x="294.4" y="440.0" font-size="16" text-anchor="middle" font-family="Liberation Serif, serif" fill="#444">***</text>
<rect x="342.8" y="357.7" width="175.49999999999994" height="185.40000000000003" fill="none" stroke="#000" stroke-width="1.6"/>
<line x1="338.8" y1="543.10" x2="342.8" y2="543.10" stroke="#000" stroke-width="1.3"/>
<text x="336.4" y="549.5" font-size="16" text-anchor="end" font-family="Liberation Sans, sans-serif" font-weight="bold">0</text>
<line x1="338.8" y1="516.61" x2="342.8" y2="516.61" stroke="#000" stroke-width="1.3"/>
<text x="336.4" y="523.38" font-size="16" text-anchor="end" font-family="Liberation Sans, sans-serif" font-weight="bold">5</text>
<line x1="338.8" y1="490.13" x2="342.8" y2="490.13" stroke="#000" stroke-width="1.3"/>
<text x="336.4" y="497.26" font-size="16" text-anchor="end" font-family="Liberation Sans, sans-serif" font-weight="bold">10</text>
<line x1="338.8" y1="463.64" x2="342.8" y2="463.64" stroke="#000" stroke-width="1.3"/>
<text x="336.4" y="471.14" font-size="16" text-anchor="end" font-family="Liberation Sans, sans-serif" font-weight="bold">15</text>
<line x1="338.8" y1="437.16" x2="342.8" y2="437.16" stroke="#000" stroke-width="1.3"/>
<text x="336.4" y="445.02" font-size="16" text-anchor="end" font-family="Liberation Sans, sans-serif" font-weight="bold">20</text>
<line x1="338.8" y1="410.67" x2="342.8" y2="410.67" stroke="#000" stroke-width="1.3"/>
<text x="336.4" y="418.9" font-size="16" text-anchor="end" font-family="Liberation Sans, sans-serif" font-weight="bold">25</text>
<line x1="338.8" y1="384.19" x2="342.8" y2="384.19" stroke="#000" stroke-width="1.3"/>
<text x="336.4" y="392.78" font-size="16" text-anchor="end" font-family="Liberation Sans, sans-serif" font-weight="bold">30</text>
<line x1="338.8" y1="357.70" x2="342.8" y2="357.70" stroke="#000" stroke-width="1.3"/>
<text x="336.4" y="366.65999999999997" font-size="16" text-anchor="end" font-family="Liberation Sans, sans-serif" font-weight="bold">35</text>
<line x1="342.80" y1="543.1" x2="342.80" y2="546.1" stroke="#000" stroke-width="1.2"/>
<line x1="372.05" y1="543.1" x2="372.05" y2="546.1" stroke="#000" stroke-width="1.2"/>
<line x1="401.30" y1="543.1" x2="401.30" y2="546.1" stroke="#000" stroke-width="1.2"/>
<line x1="430.55" y1="543.1" x2="430.55" y2="546.1" stroke="#000" stroke-width="1.2"/>
<line x1="459.80" y1="543.1" x2="459.80" y2="546.1" stroke="#000" stroke-width="1.2"/>
<line x1="489.05" y1="543.1" x2="489.05" y2="546.1" stroke="#000" stroke-width="1.2"/>
<line x1="518.30" y1="543.1" x2="518.30" y2="546.1" stroke="#000" stroke-width="1.2"/>
<rect x="348.4" y="512.5" width="18.10" height="30.60" fill="#000"/>
<line x1="357.45" y1="512.5" x2="357.45" y2="499.2" stroke="#000" stroke-width="1.3"/>
<line x1="353.95" y1="499.2" x2="360.95" y2="499.2" stroke="#000" stroke-width="1.5"/>
<rect x="377.2" y="450.1" width="18.40" height="93.00" fill="#000"/>
<line x1="386.40" y1="450.1" x2="386.40" y2="437.0" stroke="#000" stroke-width="1.3"/>
<line x1="382.90" y1="437.0" x2="389.90" y2="437.0" stroke="#000" stroke-width="1.5"/>
<rect x="406.8" y="404.8" width="18.00" height="138.30" fill="#000"/>
<line x1="415.80" y1="404.8" x2="415.80" y2="389.3" stroke="#000" stroke-width="1.3"/>
<line x1="412.30" y1="389.3" x2="419.30" y2="389.3" stroke="#000" stroke-width="1.5"/>
<rect x="436.0" y="510.6" width="18.50" height="32.50" fill="#000"/>
<line x1="445.25" y1="510.6" x2="445.25" y2="501.3" stroke="#000" stroke-width="1.3"/>
<line x1="441.75" y1="501.3" x2="448.75" y2="501.3" stroke="#000" stroke-width="1.5"/>
<rect x="465.7" y="495.8" width="18.50" height="47.30" fill="#000"/>
<line x1="474.95" y1="495.8" x2="474.95" y2="478.9" stroke="#000" stroke-width="1.3"/>
<line x1="471.45" y1="478.9" x2="478.45" y2="478.9" stroke="#000" stroke-width="1.5"/>
<rect x="494.7" y="451.9" width="18.10" height="91.20" fill="#000"/>
<line x1="503.75" y1="451.9" x2="503.75" y2="428.4" stroke="#000" stroke-width="1.3"/>
<line x1="500.25" y1="428.4" x2="507.25" y2="428.4" stroke="#000" stroke-width="1.5"/>
<text x="474.7" y="478.5" font-size="16" text-anchor="middle" font-family="Liberation Serif, serif" fill="#444">**</text>
<text x="504.0" y="430.6" font-size="16" text-anchor="middle" font-family="Liberation Serif, serif" fill="#444">*</text>
<text x="129.7" y="569.6" font-size="15.8" text-anchor="end" font-family="Liberation Sans, sans-serif" font-weight="bold">C<tspan font-size="11" dy="3.9">2</tspan><tspan dy="-3.9">-ceramide (</tspan><tspan font-family="Liberation Serif, serif" font-weight="normal" font-size="17" stroke="#000" stroke-width="0.35">μ</tspan>M)</text>
<text x="129.7" y="589.3" font-size="15.8" text-anchor="end" font-family="Liberation Sans, sans-serif" font-weight="bold">Actinomycin D</text>
<text x="148.4" y="569.6" font-size="16" text-anchor="middle" font-family="Liberation Sans, sans-serif" font-weight="bold">-</text>
<text x="148.4" y="589.3" font-size="16" text-anchor="middle" font-family="Liberation Sans, sans-serif" font-weight="bold">-</text>
<text x="175.8" y="569.6" font-size="16" text-anchor="middle" font-family="Liberation Sans, sans-serif" font-weight="bold">20</text>
<text x="175.8" y="589.3" font-size="16" text-anchor="middle" font-family="Liberation Sans, sans-serif" font-weight="bold">-</text>
<text x="206.8" y="569.6" font-size="16" text-anchor="middle" font-family="Liberation Sans, sans-serif" font-weight="bold">40</text>
<text x="206.8" y="589.3" font-size="16" text-anchor="middle" font-family="Liberation Sans, sans-serif" font-weight="bold">-</text>
<text x="237.4" y="569.6" font-size="16" text-anchor="middle" font-family="Liberation Sans, sans-serif" font-weight="bold">-</text>
<text x="237.4" y="589.3" font-size="16" text-anchor="middle" font-family="Liberation Sans, sans-serif" font-weight="bold">+</text>
<text x="265.5" y="569.6" font-size="16" text-anchor="middle" font-family="Liberation Sans, sans-serif" font-weight="bold">20</text>
<text x="265.5" y="589.3" font-size="16" text-anchor="middle" font-family="Liberation Sans, sans-serif" font-weight="bold">+</text>
<text x="295.1" y="569.6" font-size="16" text-anchor="middle" font-family="Liberation Sans, sans-serif" font-weight="bold">40</text>
<text x="295.1" y="589.3" font-size="16" text-anchor="middle" font-family="Liberation Sans, sans-serif" font-weight="bold">+</text>
<text x="358.2" y="569.6" font-size="16" text-anchor="middle" font-family="Liberation Sans, sans-serif" font-weight="bold">-</text>
<text x="358.2" y="589.3" font-size="16" text-anchor="middle" font-family="Liberation Sans, sans-serif" font-weight="bold">-</text>
<text x="385.8" y="569.6" font-size="16" text-anchor="middle" font-family="Liberation Sans, sans-serif" font-weight="bold">20</text>
<text x="385.8" y="589.3" font-size="16" text-anchor="middle" font-family="Liberation Sans, sans-serif" font-weight="bold">-</text>
<text x="416.8" y="569.6" font-size="16" text-anchor="middle" font-family="Liberation Sans, sans-serif" font-weight="bold">40</text>
<text x="416.8" y="589.3" font-size="16" text-anchor="middle" font-family="Liberation Sans, sans-serif" font-weight="bold">-</text>
<text x="447.2" y="569.6" font-size="16" text-anchor="middle" font-family="Liberation Sans, sans-serif" font-weight="bold">-</text>
<text x="447.2" y="589.3" font-size="16" text-anchor="middle" font-family="Liberation Sans, sans-serif" font-weight="bold">+</text>
<text x="475.3" y="569.6" font-size="16" text-anchor="middle" font-family="Liberation Sans, sans-serif" font-weight="bold">20</text>
<text x="475.3" y="589.3" font-size="16" text-anchor="middle" font-family="Liberation Sans, sans-serif" font-weight="bold">+</text>
<text x="504.8" y="569.6" font-size="16" text-anchor="middle" font-family="Liberation Sans, sans-serif" font-weight="bold">40</text>
<text x="504.8" y="589.3" font-size="16" text-anchor="middle" font-family="Liberation Sans, sans-serif" font-weight="bold">+</text>
</svg>
</body></html>
